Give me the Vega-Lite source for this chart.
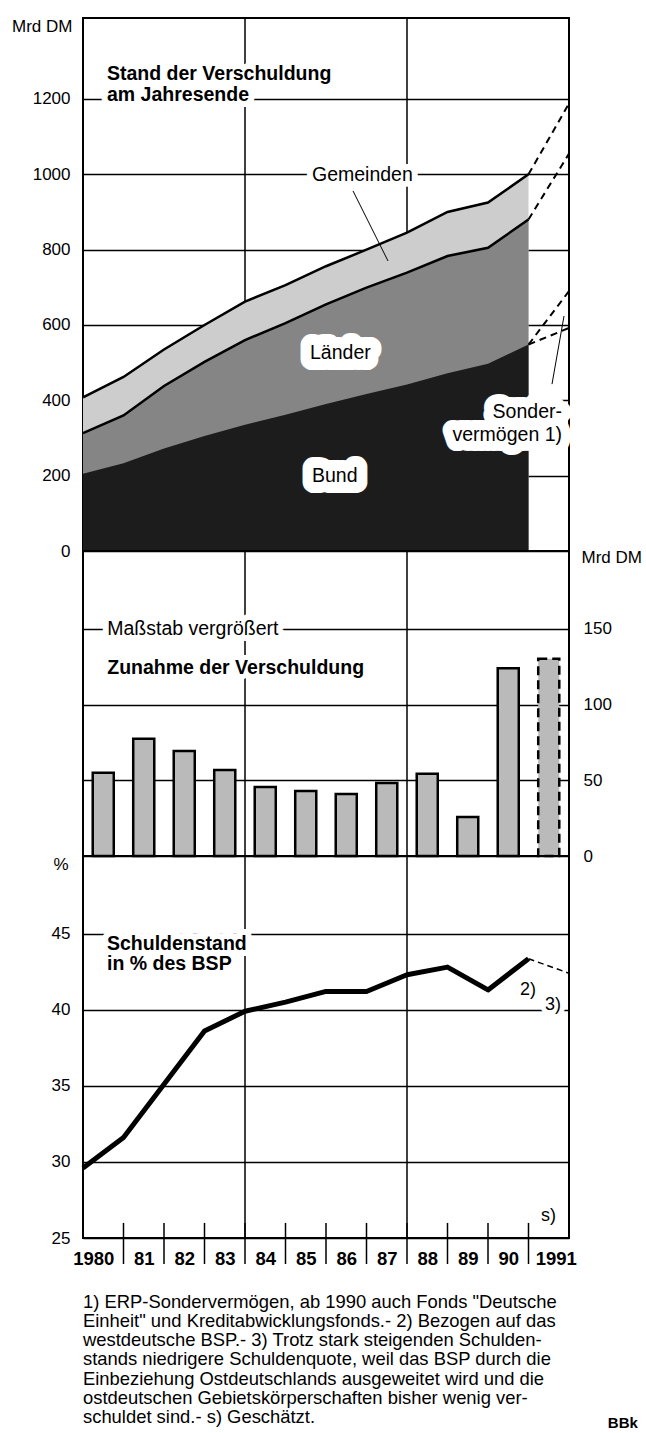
{
  "$schema": "https://vega.github.io/schema/vega-lite/v6.json",
  "background": "white",
  "padding": {"left": 10, "top": 16, "right": 0, "bottom": 0},
  "autosize": {"type": "pad"},
  "spacing": 0,
  "bounds": "flush",
  "resolve": {"scale": {"x": "independent", "y": "independent"}},
  "config": {
    "font": "Liberation Sans",
    "view": {"stroke": "black", "strokeWidth": 2},
    "axis": {
      "labelFont": "Liberation Sans", "labelFontSize": 17, "labelColor": "black",
      "titleFont": "Liberation Sans", "titleFontSize": 17, "titleFontWeight": "normal", "titleColor": "black",
      "ticks": false, "tickSize": 0, "domain": false, "labelFlush": false, "labelOverlap": false,
      "gridColor": "black", "gridWidth": 1.5, "gridOpacity": 1
    },
    "text": {"font": "Liberation Sans", "fontSize": 19.5, "color": "black"},
    "rule": {"color": "black"}
  },
  "datasets": {
    "eins": [{}],
    "stand": [
      {"jahresende": 1979, "reihe": "insgesamt", "stand": 408},
      {"jahresende": 1980, "reihe": "insgesamt", "stand": 462},
      {"jahresende": 1981, "reihe": "insgesamt", "stand": 535},
      {"jahresende": 1982, "reihe": "insgesamt", "stand": 600},
      {"jahresende": 1983, "reihe": "insgesamt", "stand": 662},
      {"jahresende": 1984, "reihe": "insgesamt", "stand": 706},
      {"jahresende": 1985, "reihe": "insgesamt", "stand": 756},
      {"jahresende": 1986, "reihe": "insgesamt", "stand": 800},
      {"jahresende": 1987, "reihe": "insgesamt", "stand": 845},
      {"jahresende": 1988, "reihe": "insgesamt", "stand": 900},
      {"jahresende": 1989, "reihe": "insgesamt", "stand": 925},
      {"jahresende": 1990, "reihe": "insgesamt", "stand": 1000},
      {"jahresende": 1979, "reihe": "Bund und Länder", "stand": 313},
      {"jahresende": 1980, "reihe": "Bund und Länder", "stand": 360},
      {"jahresende": 1981, "reihe": "Bund und Länder", "stand": 438},
      {"jahresende": 1982, "reihe": "Bund und Länder", "stand": 502},
      {"jahresende": 1983, "reihe": "Bund und Länder", "stand": 560},
      {"jahresende": 1984, "reihe": "Bund und Länder", "stand": 605},
      {"jahresende": 1985, "reihe": "Bund und Länder", "stand": 655},
      {"jahresende": 1986, "reihe": "Bund und Länder", "stand": 699},
      {"jahresende": 1987, "reihe": "Bund und Länder", "stand": 739},
      {"jahresende": 1988, "reihe": "Bund und Länder", "stand": 783},
      {"jahresende": 1989, "reihe": "Bund und Länder", "stand": 805},
      {"jahresende": 1990, "reihe": "Bund und Länder", "stand": 880},
      {"jahresende": 1979, "reihe": "Bund", "stand": 205},
      {"jahresende": 1980, "reihe": "Bund", "stand": 233},
      {"jahresende": 1981, "reihe": "Bund", "stand": 272},
      {"jahresende": 1982, "reihe": "Bund", "stand": 305},
      {"jahresende": 1983, "reihe": "Bund", "stand": 335},
      {"jahresende": 1984, "reihe": "Bund", "stand": 362},
      {"jahresende": 1985, "reihe": "Bund", "stand": 390},
      {"jahresende": 1986, "reihe": "Bund", "stand": 417},
      {"jahresende": 1987, "reihe": "Bund", "stand": 442},
      {"jahresende": 1988, "reihe": "Bund", "stand": 472},
      {"jahresende": 1989, "reihe": "Bund", "stand": 497},
      {"jahresende": 1990, "reihe": "Bund", "stand": 548}
    ],
    "schaetzung": [
      {"jahresende": 1990, "reihe": "insgesamt", "stand": 1000},
      {"jahresende": 1991, "reihe": "insgesamt", "stand": 1188},
      {"jahresende": 1990, "reihe": "Bund, Länder und Sondervermögen", "stand": 880},
      {"jahresende": 1991, "reihe": "Bund, Länder und Sondervermögen", "stand": 1055},
      {"jahresende": 1990, "reihe": "Bund und Sondervermögen", "stand": 548},
      {"jahresende": 1991, "reihe": "Bund und Sondervermögen", "stand": 690},
      {"jahresende": 1990, "reihe": "Bund", "stand": 548},
      {"jahresende": 1991, "reihe": "Bund", "stand": 592}
    ],
    "zunahme": [
      {"jahr": 1980, "zunahme": 55.0, "status": "Ist"},
      {"jahr": 1981, "zunahme": 77.4, "status": "Ist"},
      {"jahr": 1982, "zunahme": 69.4, "status": "Ist"},
      {"jahr": 1983, "zunahme": 56.8, "status": "Ist"},
      {"jahr": 1984, "zunahme": 45.6, "status": "Ist"},
      {"jahr": 1985, "zunahme": 42.9, "status": "Ist"},
      {"jahr": 1986, "zunahme": 41.0, "status": "Ist"},
      {"jahr": 1987, "zunahme": 48.2, "status": "Ist"},
      {"jahr": 1988, "zunahme": 54.4, "status": "Ist"},
      {"jahr": 1989, "zunahme": 25.8, "status": "Ist"},
      {"jahr": 1990, "zunahme": 124.0, "status": "Ist"},
      {"jahr": 1991, "zunahme": 130.3, "status": "geschätzt"}
    ],
    "quote": [
      {"jahresende": 1979, "quote": 29.6},
      {"jahresende": 1980, "quote": 31.6},
      {"jahresende": 1981, "quote": 35.1},
      {"jahresende": 1982, "quote": 38.6},
      {"jahresende": 1983, "quote": 39.9},
      {"jahresende": 1984, "quote": 40.5},
      {"jahresende": 1985, "quote": 41.2},
      {"jahresende": 1986, "quote": 41.2},
      {"jahresende": 1987, "quote": 42.3},
      {"jahresende": 1988, "quote": 42.8},
      {"jahresende": 1989, "quote": 41.3},
      {"jahresende": 1990, "quote": 43.35},
      {"jahresende": 1991, "quote": 42.4}
    ]
  },
  "vconcat": [
    {
      "width": 486,
      "height": 533,
      "layer": [
        {
          "data": {"name": "eins"},
          "mark": {"type": "rule", "strokeWidth": 1.5},
          "encoding": {"x": {"datum": 1983, "type": "quantitative", "scale": {"domain": [1979, 1991], "nice": false, "zero": false}, "axis": null}}
        },
        {
          "data": {"name": "eins"},
          "mark": {"type": "rule", "strokeWidth": 1.5},
          "encoding": {"x": {"datum": 1987, "type": "quantitative"}}
        },
        {
          "data": {"name": "stand"},
          "transform": [{"filter": "datum.reihe === 'insgesamt'"}],
          "mark": {"type": "area", "fill": "#cdcdcd"},
          "encoding": {
            "x": {"field": "jahresende", "type": "quantitative"},
            "y": {"field": "stand", "type": "quantitative", "scale": {"domain": [0, 1415], "nice": false},
                  "axis": {"values": [0, 200, 400, 600, 800, 1000, 1200], "format": "d", "grid": true, "labelPadding": 13,
                           "title": "Mrd DM", "titleAngle": 0, "titleAlign": "right", "titleBaseline": "middle", "titleX": -11, "titleY": 8}}
          }
        },
        {
          "data": {"name": "stand"},
          "transform": [{"filter": "datum.reihe === 'Bund und Länder'"}],
          "mark": {"type": "area", "fill": "#858585"},
          "encoding": {
            "x": {"field": "jahresende", "type": "quantitative"},
            "y": {"field": "stand", "type": "quantitative"}
          }
        },
        {
          "data": {"name": "stand"},
          "transform": [{"filter": "datum.reihe === 'Bund'"}],
          "mark": {"type": "area", "fill": "#1c1c1c"},
          "encoding": {
            "x": {"field": "jahresende", "type": "quantitative"},
            "y": {"field": "stand", "type": "quantitative"}
          }
        },
        {
          "data": {"name": "stand"},
          "transform": [{"filter": "datum.reihe !== 'Bund'"}],
          "mark": {"type": "line", "stroke": "black", "strokeWidth": 2.5},
          "encoding": {
            "x": {"field": "jahresende", "type": "quantitative"},
            "y": {"field": "stand", "type": "quantitative"},
            "detail": {"field": "reihe", "type": "nominal"}
          }
        },
        {
          "data": {"name": "schaetzung"},
          "mark": {"type": "line", "stroke": "black", "strokeWidth": 2, "strokeDash": [7, 5]},
          "encoding": {
            "x": {"field": "jahresende", "type": "quantitative"},
            "y": {"field": "stand", "type": "quantitative"},
            "detail": {"field": "reihe", "type": "nominal"}
          }
        },
        {
          "data": {"name": "eins"},
          "mark": {"type": "rule", "strokeWidth": 1},
          "encoding": {"x": {"datum": 1985.667}, "y": {"datum": 956}, "x2": {"datum": 1986.531}, "y2": {"datum": 770}}
        },
        {
          "data": {"name": "eins"},
          "mark": {"type": "rule", "strokeWidth": 1},
          "encoding": {"x": {"datum": 1990.58}, "y": {"datum": 443}, "x2": {"datum": 1990.877}, "y2": {"datum": 624}}
        },
        {
          "data": {"name": "eins"},
          "mark": {"type": "text", "align": "left", "baseline": "alphabetic", "fontWeight": "bold", "lineHeight": 21, "stroke": "white", "strokeWidth": 12, "strokeJoin": "round", "fill": "white"},
          "encoding": {"x": {"datum": 1979.593}, "y": {"datum": 1250}, "text": {"value": ["Stand der Verschuldung", "am Jahresende"]}}
        },
        {
          "data": {"name": "eins"},
          "mark": {"type": "text", "align": "left", "baseline": "alphabetic", "fontWeight": "bold", "lineHeight": 21},
          "encoding": {"x": {"datum": 1979.593}, "y": {"datum": 1250}, "text": {"value": ["Stand der Verschuldung", "am Jahresende"]}}
        },
        {
          "data": {"name": "eins"},
          "mark": {"type": "text", "align": "left", "baseline": "middle", "stroke": "white", "strokeWidth": 12, "strokeJoin": "round", "fill": "white"},
          "encoding": {"x": {"datum": 1984.654}, "y": {"datum": 998}, "text": {"value": "Gemeinden"}}
        },
        {
          "data": {"name": "eins"},
          "mark": {"type": "text", "align": "left", "baseline": "middle"},
          "encoding": {"x": {"datum": 1984.654}, "y": {"datum": 998}, "text": {"value": "Gemeinden"}}
        },
        {
          "data": {"name": "eins"},
          "mark": {"type": "text", "align": "left", "baseline": "middle", "stroke": "white", "strokeWidth": 22, "strokeJoin": "round", "fill": "white"},
          "encoding": {"x": {"datum": 1984.605}, "y": {"datum": 526}, "text": {"value": "Länder"}}
        },
        {
          "data": {"name": "eins"},
          "mark": {"type": "text", "align": "left", "baseline": "middle"},
          "encoding": {"x": {"datum": 1984.605}, "y": {"datum": 526}, "text": {"value": "Länder"}}
        },
        {
          "data": {"name": "eins"},
          "mark": {"type": "text", "align": "left", "baseline": "middle", "stroke": "white", "strokeWidth": 22, "strokeJoin": "round", "fill": "white"},
          "encoding": {"x": {"datum": 1984.654}, "y": {"datum": 199}, "text": {"value": "Bund"}}
        },
        {
          "data": {"name": "eins"},
          "mark": {"type": "text", "align": "left", "baseline": "middle"},
          "encoding": {"x": {"datum": 1984.654}, "y": {"datum": 199}, "text": {"value": "Bund"}}
        },
        {
          "data": {"name": "eins"},
          "mark": {"type": "text", "align": "right", "baseline": "middle", "lineHeight": 23, "stroke": "white", "strokeWidth": 20, "strokeJoin": "round", "fill": "white"},
          "encoding": {"x": {"datum": 1990.827}, "y": {"datum": 368}, "text": {"value": ["Sonder-", "vermögen 1)"]}}
        },
        {
          "data": {"name": "eins"},
          "mark": {"type": "text", "align": "right", "baseline": "middle", "lineHeight": 23},
          "encoding": {"x": {"datum": 1990.827}, "y": {"datum": 368}, "text": {"value": ["Sonder-", "vermögen 1)"]}}
        }
      ]
    },
    {
      "width": 486,
      "height": 305,
      "resolve": {"scale": {"x": "independent"}},
      "layer": [
        {
          "layer": [
            {
              "data": {"name": "eins"},
              "mark": {"type": "rule", "strokeWidth": 1.5},
              "encoding": {"x": {"datum": 1983, "type": "quantitative", "scale": {"domain": [1979, 1991], "nice": false, "zero": false}, "axis": null}}
            },
            {
              "data": {"name": "eins"},
              "mark": {"type": "rule", "strokeWidth": 1.5},
              "encoding": {"x": {"datum": 1987, "type": "quantitative"}}
            }
          ]
        },
        {
          "layer": [
            {
              "data": {"name": "zunahme"},
              "mark": {"type": "bar", "width": {"band": 0.52}, "fill": "#bababa", "stroke": "black", "strokeWidth": 2.5},
              "encoding": {
                "x": {"field": "jahr", "type": "ordinal",
                      "scale": {"domain": [1980, 1981, 1982, 1983, 1984, 1985, 1986, 1987, 1988, 1989, 1990, 1991], "paddingInner": 0, "paddingOuter": 0},
                      "axis": null},
                "y": {"field": "zunahme", "type": "quantitative", "scale": {"domain": [0, 201.5], "nice": false},
                      "axis": {"orient": "right", "values": [0, 50, 100, 150], "grid": true, "labelPadding": 14,
                               "title": "Mrd DM", "titleAngle": 0, "titleAlign": "left", "titleBaseline": "middle", "titleX": 12, "titleY": 6}},
                "strokeDash": {"field": "status", "type": "nominal", "scale": {"domain": ["Ist", "geschätzt"], "range": [[1, 0], [9, 5]]}, "legend": null}
              }
            },
            {
              "data": {"name": "eins"},
              "mark": {"type": "text", "align": "left", "baseline": "middle", "dx": 4, "stroke": "white", "strokeWidth": 12, "strokeJoin": "round", "fill": "white"},
              "encoding": {"x": {"datum": 1980, "type": "ordinal"}, "y": {"datum": 150}, "text": {"value": "Maßstab vergrößert"}}
            },
            {
              "data": {"name": "eins"},
              "mark": {"type": "text", "align": "left", "baseline": "middle", "dx": 4},
              "encoding": {"x": {"datum": 1980, "type": "ordinal"}, "y": {"datum": 150}, "text": {"value": "Maßstab vergrößert"}}
            },
            {
              "data": {"name": "eins"},
              "mark": {"type": "text", "align": "left", "baseline": "middle", "dx": 4, "fontWeight": "bold", "stroke": "white", "strokeWidth": 10, "strokeJoin": "round", "fill": "white"},
              "encoding": {"x": {"datum": 1980, "type": "ordinal"}, "y": {"datum": 124.2}, "text": {"value": "Zunahme der Verschuldung"}}
            },
            {
              "data": {"name": "eins"},
              "mark": {"type": "text", "align": "left", "baseline": "middle", "dx": 4, "fontWeight": "bold"},
              "encoding": {"x": {"datum": 1980, "type": "ordinal"}, "y": {"datum": 124.2}, "text": {"value": "Zunahme der Verschuldung"}}
            }
          ]
        }
      ]
    },
    {
      "width": 486,
      "height": 382,
      "layer": [
        {
          "data": {"name": "quote"},
          "transform": [{"filter": "datum.jahresende <= 1990"}],
          "mark": {"type": "line", "stroke": "black", "strokeWidth": 5, "strokeJoin": "round"},
          "encoding": {
            "x": {"field": "jahresende", "type": "quantitative", "scale": {"domain": [1979, 1991], "nice": false, "zero": false},
                  "axis": {"values": [1979.5, 1980.5, 1981.5, 1982.5, 1983.5, 1984.5, 1985.5, 1986.5, 1987.5, 1988.5, 1989.5, 1990.5],
                           "labelExpr": "datum.value < 1980 ? '1980' : (datum.value > 1990 ? '1991' : slice(toString(floor(datum.value) + 1), 2))",
                           "labelFontWeight": "bold", "labelFontSize": 18.5, "labelBaseline": "middle", "labelPadding": 20,
                           "labelOffset": {"condition": [{"test": "datum.value < 1980", "value": -10}, {"test": "datum.value > 1990", "value": 7}], "value": 0},
                           "grid": false, "title": null}},
            "y": {"field": "quote", "type": "quantitative", "scale": {"domain": [25, 50.1], "nice": false, "zero": false},
                  "axis": {"values": [25, 30, 35, 40, 45], "grid": true, "labelPadding": 13,
                           "title": "%", "titleAngle": 0, "titleAlign": "right", "titleBaseline": "middle", "titleX": -15, "titleY": 8}}
          }
        },
        {
          "data": {"name": "quote"},
          "transform": [{"filter": "datum.jahresende >= 1990"}],
          "mark": {"type": "line", "stroke": "black", "strokeWidth": 1.5, "strokeDash": [6, 4]},
          "encoding": {
            "x": {"field": "jahresende", "type": "quantitative"},
            "y": {"field": "quote", "type": "quantitative"}
          }
        },
        {
          "data": {"name": "eins"},
          "mark": {"type": "rule", "strokeWidth": 1.5},
          "encoding": {"x": {"datum": 1983}}
        },
        {
          "data": {"name": "eins"},
          "mark": {"type": "rule", "strokeWidth": 1.5},
          "encoding": {"x": {"datum": 1987}}
        },
        {
          "data": {"name": "quote"},
          "transform": [{"filter": "datum.jahresende >= 1980 && datum.jahresende <= 1990"}],
          "mark": {"type": "rule", "strokeWidth": 1.5},
          "encoding": {
            "x": {"field": "jahresende", "type": "quantitative"},
            "y": {"datum": 25.99},
            "y2": {"datum": 23.29}
          }
        },
        {
          "data": {"name": "eins"},
          "mark": {"type": "text", "align": "left", "baseline": "middle", "fontWeight": "bold", "lineHeight": 20, "stroke": "white", "strokeWidth": 12, "strokeJoin": "round", "fill": "white"},
          "encoding": {"x": {"datum": 1979.593}, "y": {"datum": 44.32}, "text": {"value": ["Schuldenstand", "in % des BSP"]}}
        },
        {
          "data": {"name": "eins"},
          "mark": {"type": "text", "align": "left", "baseline": "middle", "fontWeight": "bold", "lineHeight": 20},
          "encoding": {"x": {"datum": 1979.593}, "y": {"datum": 44.32}, "text": {"value": ["Schuldenstand", "in % des BSP"]}}
        },
        {
          "data": {"name": "eins"},
          "mark": {"type": "text", "align": "left", "baseline": "middle", "fontSize": 18},
          "encoding": {"x": {"datum": 1989.79}, "y": {"datum": 41.3}, "text": {"value": "2)"}}
        },
        {
          "data": {"name": "eins"},
          "mark": {"type": "text", "align": "left", "baseline": "middle", "fontSize": 18, "stroke": "white", "strokeWidth": 10, "strokeJoin": "round", "fill": "white"},
          "encoding": {"x": {"datum": 1990.407}, "y": {"datum": 40.31}, "text": {"value": "3)"}}
        },
        {
          "data": {"name": "eins"},
          "mark": {"type": "text", "align": "left", "baseline": "middle", "fontSize": 18},
          "encoding": {"x": {"datum": 1990.407}, "y": {"datum": 40.31}, "text": {"value": "3)"}}
        },
        {
          "data": {"name": "eins"},
          "mark": {"type": "text", "align": "left", "baseline": "middle", "fontSize": 18},
          "encoding": {"x": {"datum": 1990.31}, "y": {"datum": 26.45}, "text": {"value": "s)"}}
        },
        {
          "data": {"name": "eins"},
          "mark": {"type": "text", "align": "left", "baseline": "alphabetic", "fontSize": 18.4, "lineHeight": 19.3},
          "encoding": {"x": {"datum": 1979}, "y": {"datum": 20.43}, "text": {"value": [
            "1) ERP-Sondervermögen, ab 1990 auch  Fonds \"Deutsche",
            "Einheit\" und Kreditabwicklungsfonds.- 2) Bezogen auf das",
            "westdeutsche BSP.- 3) Trotz stark steigenden Schulden-",
            "stands niedrigere Schuldenquote, weil das BSP durch die",
            "Einbeziehung Ostdeutschlands ausgeweitet wird und die",
            "ostdeutschen  Gebietskörperschaften  bisher  wenig  ver-",
            "schuldet sind.- s) Geschätzt."
          ]}}
        },
        {
          "data": {"name": "eins"},
          "mark": {"type": "text", "align": "right", "baseline": "middle", "fontSize": 15, "fontWeight": "bold"},
          "encoding": {"x": {"datum": 1992.7}, "y": {"datum": 12.84}, "text": {"value": "BBk"}}
        }
      ]
    }
  ]
}
